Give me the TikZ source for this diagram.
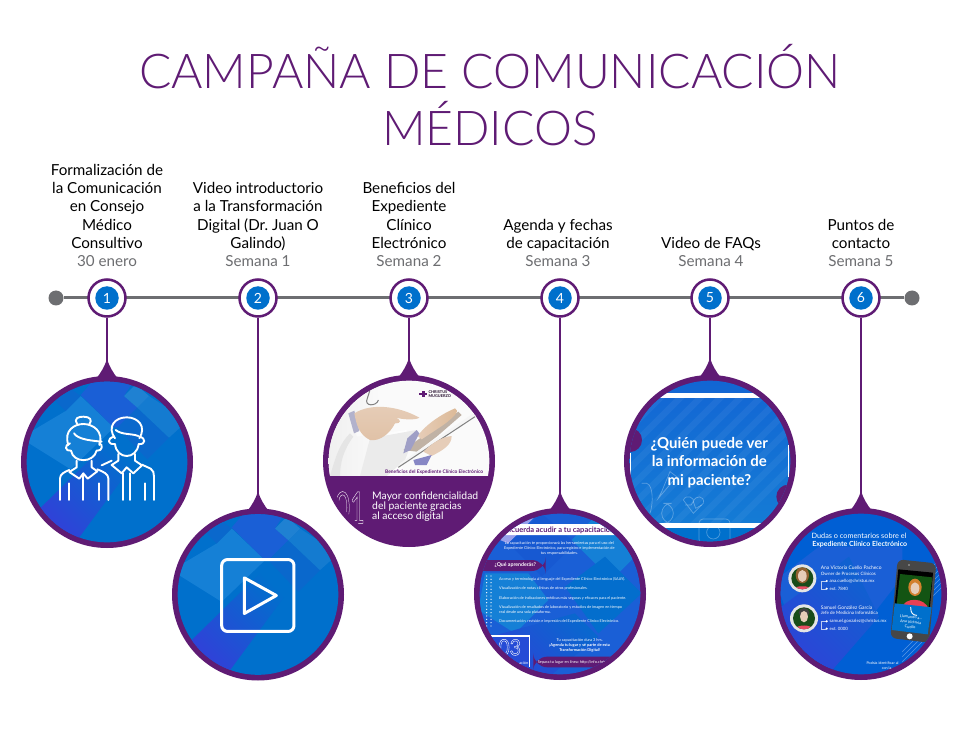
\documentclass[tikz,border=0pt]{standalone}
\usepackage{fontspec}
\setmainfont{Lato}
\newfontfamily\lightfont{Lato Light}
\frenchspacing
\usetikzlibrary{positioning}
\definecolor{camppurple}{HTML}{5F1B74}
\definecolor{campgray}{HTML}{6D6E71}
\definecolor{campblue}{HTML}{0070CC}
\definecolor{campindigo}{HTML}{2F42D8}
\definecolor{campskin}{HTML}{E6CDB8}
\definecolor{camplight}{HTML}{1580D6}
\definecolor{campmid}{HTML}{1A5FD6}
\definecolor{campdeep}{HTML}{0A68CC}
\tikzset{
  timeline/.style={draw=campgray,line width=3pt},
  enddot/.style={circle,fill=campgray,minimum size=15pt,inner sep=0pt},
  numring/.style={circle,draw=camppurple,line width=2.5pt,fill=white,minimum size=37pt,inner sep=0pt},
  numdot/.style={circle,fill=campblue,minimum size=23.5pt,inner sep=0pt,text=white,font=\fontsize{14}{16}\selectfont},
  stem/.style={draw=camppurple,line width=1.5pt},
  disc/.style={circle,fill=camppurple,minimum size=172pt,inner sep=0pt},
  steplabel/.style={anchor=south,align=center,inner sep=0pt,font=\fontsize{15.2}{18.3}\selectfont},
  icon/.style={draw=white,line width=1.9pt,line cap=round,line join=round},
  wtext/.style={text=white,inner sep=0pt},
  ltext/.style={text=white,inner sep=0pt,anchor=west},
}
\newcommand{\semana}[1]{{\color{campgray}#1}}
\newcommand{\outlinetext}[1]{\special{pdf:code q 1 Tr 0.45 w 1 1 1 RG}#1\special{pdf:code Q}}
% blue pattern of the two icon discs
\newcommand{\discpattern}{
  \fill[campblue] (0,0) rectangle (570,620);
  \fill[camplight] (20,240) -- (155,160) -- (200,115) -- (300,210) -- (170,335) -- (50,260) -- cycle;
  \fill[campdeep] (125,130) -- (165,90) -- (200,115) -- (155,160) -- cycle;
  \fill[campmid] (200,112) -- (245,60) -- (365,60) -- (330,115) -- (370,150) -- (310,210) -- (298,208) -- cycle;
  \fill[campdeep] (310,210) -- (370,150) -- (465,240) -- (400,305) -- cycle;
  \fill[campblue!92!white] (370,150) -- (405,115) -- (520,190) -- (465,240) -- cycle;
  \fill[campblue!88!white] (330,115) -- (365,80) -- (405,115) -- (370,150) -- cycle;
  \path[left color=campindigo,right color=campblue,shading angle=135] (80,450) -- (300,235) -- (365,310) -- (195,540) -- (90,530) -- cycle;
}
\begin{document}
\begin{tikzpicture}[x=1pt,y=-1pt]
  \useasboundingbox (0,0) rectangle (980,735);
  \fill[white] (0,0) rectangle (980,735);

  \node [text=camppurple,font=\lightfont\fontsize{48}{50}\selectfont,inner sep=0pt] (title1) at (490,67) {CAMPAÑA DE COMUNICACIÓN};
  \node [text=camppurple,font=\lightfont\fontsize{48}{50}\selectfont,inner sep=0pt] (title2) at (490,124) {MÉDICOS};

  \node [steplabel] (label1) at (107,267) {Formalización de\\la Comunicación\\en Consejo\\Médico\\Consultivo\\\semana{30 enero}};
  \node [steplabel] (label2) at (258,267) {Video introductorio\\a la Transformación\\Digital (Dr. Juan O\\Galindo)\\\semana{Semana 1}};
  \node [steplabel] (label3) at (409,267) {Beneficios del\\Expediente\\Clínico\\Electrónico\\\semana{Semana 2}};
  \node [steplabel] (label4) at (558,267) {Agenda y fechas\\de capacitación\\\semana{Semana 3}};
  \node [steplabel] (label5) at (711,267) {Video de FAQs\\\semana{Semana 4}};
  \node [steplabel] (label6) at (861,267) {Puntos de\\contacto\\\semana{Semana 5}};

  \node [enddot] (lineleft) at (56,298) {};
  \node [enddot] (lineright) at (912,298) {};
  \draw [timeline] (lineleft) -- (lineright);

  \node [disc] (disc1) at (107,462) {};
  \node [disc] (disc2) at (258,594.5) {};
  \node [disc] (disc3) at (409,461) {};
  \node [disc] (disc4) at (560,594) {};
  \node [disc] (disc5) at (710,461) {};
  \node [disc] (disc6) at (861,594) {};

  \node [numring] (num1) at (107,298) {};
  \node [numring] (num2) at (258,298) {};
  \node [numring] (num3) at (409,298) {};
  \node [numring] (num4) at (560,298) {};
  \node [numring] (num5) at (710,298) {};
  \node [numring] (num6) at (861,298) {};

  \foreach \n in {1,...,6} {
    \draw [stem] (num\n) -- (disc\n.north);
    \fill [camppurple] ([yshift=17pt]disc\n.north) .. controls ([xshift=2pt,yshift=10pt]disc\n.north) and ([xshift=6pt,yshift=3pt]disc\n.north) .. ([xshift=11pt,yshift=-3pt]disc\n.north)
      -- ([xshift=-11pt,yshift=-3pt]disc\n.north) .. controls ([xshift=-6pt,yshift=3pt]disc\n.north) and ([xshift=-2pt,yshift=10pt]disc\n.north) .. cycle;
    \node [numdot] (dot\n) at (num\n) {\n};
  }

  % disc 1
  \begin{scope}[shift={(disc1.center)},scale=.3333,shift={(-279,-313)}]
    \clip (279,313) circle [radius=241];
    \discpattern
  \end{scope}
  \begin{scope}[shift={(disc1.center)},scale=.3333,shift={(-321,-576)}]
    \draw [icon] (232,462) .. controls (220,445) and (235,440) .. (250,440) .. controls (270,440) and (278,450) .. (268,462);
    \draw [icon] (205,525) .. controls (190,480) and (225,462) .. (250,462) .. controls (280,462) and (312,485) .. (298,525);
    \draw [icon] (222,490) .. controls (235,510) and (280,512) .. (305,515);
    \draw [icon] (210,520) .. controls (192,525) and (195,545) .. (213,542) .. controls (220,580) and (280,580) .. (290,542) .. controls (308,545) and (310,522) .. (298,520);
    \draw [icon] (230,572) -- (230,592) -- (208,606) -- (238,626) -- (250,610) -- (263,626) -- (292,604) -- (275,592) -- (275,572);
    \draw [icon] (180,690) -- (180,625) .. controls (180,612) and (195,605) .. (208,600);
    \draw [icon] (325,690) -- (325,625) .. controls (325,612) and (310,605) .. (292,598);
    \draw [icon] (206,690) -- (206,640);
    \draw [icon] (298,690) -- (298,640);
    \draw [icon] (250,612) -- (250,690);
    \draw [icon] (345,505) .. controls (320,470) and (345,442) .. (380,442) .. controls (415,442) and (440,470) .. (418,505);
    \draw [icon] (347,480) .. controls (365,495) and (395,490) .. (415,498);
    \draw [icon] (342,500) .. controls (320,505) and (322,525) .. (345,522) .. controls (350,570) and (410,570) .. (416,522) .. controls (438,525) and (438,503) .. (418,500);
    \draw [icon] (355,552) -- (355,572) -- (335,585) -- (365,610) -- (380,592) -- (400,610) -- (426,586) -- (405,572) -- (405,552);
    \draw [icon] (305,586) -- (335,572);
    \draw [icon] (368,610) -- (368,690);
    \draw [icon] (390,610) -- (390,690);
    \draw [icon] (426,584) -- (452,596) .. controls (460,600) and (462,610) .. (462,620) -- (462,690);
    \draw [icon] (435,690) -- (435,640);
  \end{scope}

  % disc 2
  \begin{scope}[shift={(disc2.center)},scale=.3333,shift={(-279,-313)}]
    \clip (279,313) circle [radius=241];
    \discpattern
    \draw [icon,line width=3pt,rounded corners=6pt] (170,208) rectangle (387,424);
    \draw [icon,line width=3pt] (238,263) -- (334,316) -- (238,370) -- cycle;
  \end{scope}

  % disc 3
  \begin{scope}[shift={(disc3.center)},scale=.3333,shift={(-267,-273)}]
    \clip (267,273) circle [radius=241];
    \fill [black!2!white] (0,0) rectangle (540,318);
    \path [left color=black!6,right color=white] (20,320) -- (20,170) -- (80,60) -- (190,40) -- (190,110) -- (100,130) -- (110,200) -- (260,180) -- (245,318) -- cycle;
    \fill [black!10!white] (30,318) .. controls (50,250) and (60,220) .. (90,190) -- (100,200) .. controls (70,240) and (60,280) .. (60,318) -- cycle;
    \draw [black!50,line width=1pt] (150,60) -- (142,85) .. controls (130,110) and (170,110) .. (175,90);
    \fill [black!8!white] (150,205) -- (290,180) -- (255,270) -- (200,318) -- (120,318) -- cycle;
    \fill [blue!20!gray!50!white] (85,130) -- (103,122) -- (118,183) -- (102,190) -- cycle;
    \path [top color=campskin,bottom color=campskin!85!brown] (103,130) .. controls (150,100) and (230,105) .. (298,143) .. controls (290,150) and (250,150) .. (225,142) .. controls (245,150) and (245,160) .. (225,160) .. controls (210,190) and (180,215) .. (150,210) .. controls (120,195) and (110,170) .. (103,130) -- cycle;
    \fill [brown!35!gray!60!white] (250,240) -- (300,205) -- (415,125) -- (425,135) -- (350,200) -- (290,245) -- cycle;
    \path [left color=campskin,right color=brown!55!white] (293,198) .. controls (320,160) and (370,130) .. (405,115) .. controls (418,122) and (410,135) .. (370,165) -- (305,208) -- cycle;
    \fill [black!4] (235,292) -- (265,275) -- (468,138) -- (460,130) -- (240,280) -- cycle;
    \draw [black!50,line width=1pt] (235,292) -- (465,140);
    \fill [campskin] (310,245) .. controls (340,215) and (370,200) .. (395,198) .. controls (395,225) and (370,240) .. (335,258) -- cycle;
    \fill [blue!25!gray!60!white] (262,205) -- (290,180) -- (298,190) -- (272,240) -- (250,250) -- cycle;
    \fill [blue!35!gray!70!white] (280,270) -- (335,255) -- (320,285) -- (285,285) -- cycle;
    \fill [camppurple] (0,318) rectangle (540,560);
    \fill [camppurple] (306,62) rectangle +(8,20);
    \fill [camppurple] (298,68) rectangle +(24,7);
    \node [inner sep=0pt,text=black!65!camppurple,anchor=west,align=left,font=\fontsize{3.9}{3.9}\bfseries\selectfont] (logo3) at (325,72) {CHRISTUS\\MUGUERZO};
    \node [inner sep=0pt,text=camppurple,anchor=east,font=\bfseries\fontsize{4.9}{6}\selectfont] (caption3) at (490,307) {Beneficios del Expediente Clínico Electrónico};
    \node [wtext,font=\fontsize{44}{44}\selectfont,anchor=west] (big3) at (45,413) {\scalebox{.58}[1]{\outlinetext{01}}};
    \node [ltext,align=left,font=\fontsize{10.4}{10.2}\selectfont] (mayor3) at (156,410) {Mayor confidencialidad\\del paciente gracias\\al acceso digital};
  \end{scope}

  % disc 4
  \begin{scope}[shift={(disc4.center)},scale=.3333,shift={(-285,-282)}]
    \clip (285,282) circle [radius=241];
    \fill [campmid] (0,0) rectangle (570,570);
    \fill [campindigo!50!white] (150,30) -- (230,30) -- (130,130) -- (80,110) -- cycle;
    \fill [campindigo!50!campblue] (230,40) -- (330,130) -- (230,230) -- (130,130) -- cycle;
    \fill [camplight] (400,40) -- (520,160) -- (440,240) -- (320,120) -- cycle;
    \fill [camplight] (60,220) -- (190,220) -- (250,300) -- (150,400) -- (40,330) -- cycle;
    \fill [campblue!90!campmid] (300,260) -- (420,170) -- (530,280) -- (400,400) -- cycle;
    \path [left color=campindigo,right color=campblue!80!campindigo,shading angle=135] (40,420) -- (330,340) -- (400,410) -- (240,540) -- (60,530) -- cycle;
    \fill [white] (105,72) -- (470,72) -- (470,105) -- (120,105) -- cycle;
    \begin{scope}
      \clip (132,60) rectangle (445,115);
      \node [inner sep=0pt,text=camppurple,font=\bfseries\fontsize{7.5}{9}\selectfont] (head4) at (281,90) {Recuerda acudir a tu capacitación};
    \end{scope}
    \node [wtext,align=center,font=\fontsize{3.85}{4.9}\selectfont] (intro4) at (283,146) {La capacitación te proporcionará las herramientas para el uso del\\Expediente Clínico Electrónico, para registro e implementación de\\tus responsabilidades.};
    \fill [camppurple,rounded corners=14pt] (20,180) rectangle (242,213);
    \node [ltext,font=\bfseries\fontsize{5.2}{6}\selectfont] (que4) at (88,196) {¿Qué aprenderás?};
    \foreach \yy in {228,238,...,380} {
      \fill [white] (65,\yy) circle [radius=2];
      \fill [white] (78,\yy) circle [radius=2];
    }
    \node [ltext,font=\fontsize{3.8}{4.7}\selectfont] (item1) at (102,238) {Acceso y terminología al lenguaje del Expediente Clínico Electrónico (SAAY).};
    \node [ltext,font=\fontsize{3.8}{4.7}\selectfont] (item2) at (102,266) {Visualización de notas clínicas de otros profesionales.};
    \node [ltext,font=\fontsize{3.8}{4.7}\selectfont] (item3) at (102,294) {Elaboración de indicaciones médicas más seguras y eficaces para el paciente.};
    \node [ltext,align=left,font=\fontsize{3.8}{4.7}\selectfont] (item4) at (102,330) {Visualización de resultados de laboratorio y estudios de imagen en tiempo\\real desde una sola plataforma.};
    \node [ltext,font=\fontsize{3.8}{4.7}\selectfont] (item5) at (102,365) {Documentación, revisión e impresión del Expediente Clínico Electrónico.};
    \fill [campindigo!80!campblue] (80,410) rectangle (192,500);
    \draw [white,line width=1.2pt] (78,530) -- (78,408) -- (193,408) -- (193,500);
    \node [wtext,font=\fontsize{22}{22}\selectfont] (big4) at (134,442) {\scalebox{.88}[1]{\outlinetext{03}}};
    \node [inner sep=0pt,text=white,anchor=east,font=\fontsize{3.8}{4.7}\selectfont] (ac4) at (190,490) {ación};
    \node [wtext,align=center,font=\fontsize{3.95}{4.8}\selectfont] (dura4) at (344,437) {Tu capacitación dura 3 hrs.\\\textbf{¡Agenda tu lugar y sé parte de esta}\\\textbf{Transformación Digital!}};
    \fill [camppurple,rounded corners=14pt] (205,470) rectangle (560,502);
    \begin{scope}
      \clip (205,470) rectangle (420,502);
      \node [ltext,font=\fontsize{3.9}{4.7}\selectfont] (separa4) at (218,486) {Separa tu lugar en línea: http://info.christus};
    \end{scope}
  \end{scope}

  % disc 5
  \begin{scope}[shift={(disc5.center)},scale=.3333,shift={(-270,-273)}]
    \clip (270,273) circle [radius=241];
    \path [top color=campmid!70!campblue,bottom color=camplight] (0,0) rectangle (540,550);
    \foreach \xx in {0,60,...,720} {
      \fill [white,opacity=.05] (\xx,70) -- (\xx+28,70) -- (\xx-372,470) -- (\xx-400,470) -- cycle;
    }
    \fill [white] (0,68) rectangle (540,83);
    \fill [white] (0,460) rectangle (540,475);
    \fill [white] (503,83) rectangle (508,460);
    \fill [white] (30,250) rectangle (34,460);
    \fill [campblue] (0,475) rectangle (540,540);
    \begin{scope}[draw=white,opacity=.3,line width=.7pt]
      \draw (65,340) -- (80,340) .. controls (100,345) and (100,400) .. (90,430);
      \draw (115,385) -- (170,320) -- (150,305) -- (125,365) -- cycle;
      \draw [rounded corners=10pt] (125,400) rectangle (160,460);
      \draw (190,390) .. controls (200,370) and (225,385) .. (220,395) .. controls (225,375) and (255,375) .. (250,400) -- (220,430) -- cycle;
      \draw (195,405) -- (213,405) -- (220,395) -- (227,415) -- (245,405);
      \draw [rounded corners=4pt] (237,447) rectangle (330,520);
      \draw (280,487) circle [radius=20];
    \end{scope}
    \fill [camppurple] (30,210) circle [radius=36];
    \fill [camppurple] (505,380) circle [radius=36];
    \node [wtext,align=center,font=\bfseries\fontsize{15}{18.6}\selectfont] (quien5) at (268,277) {¿Quién puede ver\\la información de\\mi paciente?};
  \end{scope}

  % disc 6
  \begin{scope}[shift={(disc6.center)},scale=.3333,shift={(-276,-282)}]
    \clip (276,282) circle [radius=241];
    \fill [campblue!85!blue] (0,0) rectangle (570,570);
    \fill [campmid] (20,240) -- (150,140) -- (400,140) -- (400,230) -- (190,500) -- (120,540) -- cycle;
    \path [left color=campindigo,right color=campblue!70!campindigo,shading angle=135] (10,340) -- (240,170) -- (330,350) -- (190,510) -- (100,520) -- cycle;
    \foreach \yy in {150,165,...,240} {
      \draw [white,opacity=.35,line width=.6pt] (540,\yy) -- (540-70,\yy+70);
    }
    \foreach \yy in {385,400,...,450} {
      \draw [white,opacity=.35,line width=.6pt] (470,\yy) -- (470-70,\yy+70);
    }
    \node [wtext,font=\fontsize{7.3}{9}\selectfont] (dudas6) at (270,107) {Dudas o comentarios sobre el};
    \node [wtext,font=\bfseries\fontsize{7}{9}\selectfont] (exp6) at (272,134) {Expediente Clínico Electrónico};
    % first contact
    \fill [black!10] (100,235) circle [radius=42];
    \begin{scope}
      \clip (100,235) circle [radius=33];
      \fill [green!25!black!80!gray] (60,195) rectangle (140,275);
      \fill [brown!75!black] (100,225) ellipse [x radius=20,y radius=25];
      \fill [campskin] (100,228) ellipse [x radius=13,y radius=18];
      \fill [red!50!purple!70!white] (70,270) .. controls (75,255) and (125,255) .. (130,270) -- cycle;
    \end{scope}
    \node [ltext,font=\fontsize{4.9}{6}\selectfont] (name61) at (155,203) {Ana Victoria Cuello Pacheco};
    \node [ltext,font=\fontsize{4.5}{6}\selectfont] (role61) at (155,222) {Owner de Procesos Clínicos};
    \node [ltext,font=\fontsize{4.4}{6}\selectfont] (mail61) at (181,243) {ana.cuello@christus.mx};
    \node [ltext,font=\fontsize{4.4}{6}\selectfont] (ext61) at (181,266) {ext. 7840};
    \draw [white,opacity=.7,line width=.3pt] (155,243) -- (170,243) (155,243) -- (155,266) -- (170,266);
    \fill [white] (173,243) circle [radius=3.5] (173,266) circle [radius=3.5];
    % second contact
    \fill [black!10] (105,355) circle [radius=42];
    \begin{scope}
      \clip (105,355) circle [radius=33];
      \fill [green!25!black!80!gray] (65,315) rectangle (145,395);
      \fill [black!75] (105,338) ellipse [x radius=16,y radius=14];
      \fill [campskin] (105,350) ellipse [x radius=12,y radius=17];
      \fill [red!50!purple!70!white] (75,390) .. controls (80,372) and (130,372) .. (135,390) -- cycle;
    \end{scope}
    \node [ltext,font=\fontsize{4.9}{6}\selectfont] (name62) at (155,322) {Samuel González García};
    \node [ltext,font=\fontsize{4.5}{6}\selectfont] (role62) at (155,340) {Jefe de Medicina Informática};
    \node [ltext,font=\fontsize{4.4}{6}\selectfont] (mail62) at (181,364) {samuel.gonzalez@christus.mx};
    \node [ltext,font=\fontsize{4.4}{6}\selectfont] (ext62) at (181,386) {ext. 0000};
    \draw [white,opacity=.7,line width=.3pt] (155,364) -- (170,364) (155,364) -- (155,386) -- (170,386);
    \fill [white] (173,364) circle [radius=3.5] (173,386) circle [radius=3.5];
    % phone
    \fill [black!72,rounded corners=6pt] (386,178) -- (502,190) -- (480,428) -- (364,414) -- cycle;
    \fill [black] (388,208) -- (492,218) -- (476,398) -- (370,386) -- cycle;
    \begin{scope}
      \clip (393,222) -- (490,232) -- (478,330) -- (382,320) -- cycle;
      \fill [green!30!black!85!gray] (370,215) rectangle (500,340);
      \fill [brown!70!orange] (438,262) ellipse [x radius=20,y radius=26];
      \fill [campskin] (438,265) ellipse [x radius=13,y radius=18];
      \fill [red!55!purple!75!white] (398,325) .. controls (405,290) and (470,290) .. (480,330) -- cycle;
    \end{scope}
    \fill [campblue] (377,310) -- (488,322) -- (476,403) -- (368,390) -- cycle;
    \draw [white,line width=.9pt,line cap=round] (425,322) .. controls (425,340) and (432,345) .. (443,346);
    \node [wtext,align=center,rotate=-6,font=\fontsize{3.9}{5}\selectfont] (call6) at (425,366) {Llamando a...\\Ana Victoria\\Cuello};
    \fill [white] (422,409) circle [radius=9];
    \fill [black!30] (420,195) circle [radius=2.5];
    \begin{scope}
      \clip (280,480) rectangle (412,520);
      \node [ltext,font=\fontsize{3.7}{5}\selectfont] (podras6) at (292,490) {Podrás identificar al};
      \node [ltext,font=\fontsize{3.7}{5}\selectfont] (conla6) at (338,505) {con la};
    \end{scope}
  \end{scope}
\end{tikzpicture}
\end{document}
